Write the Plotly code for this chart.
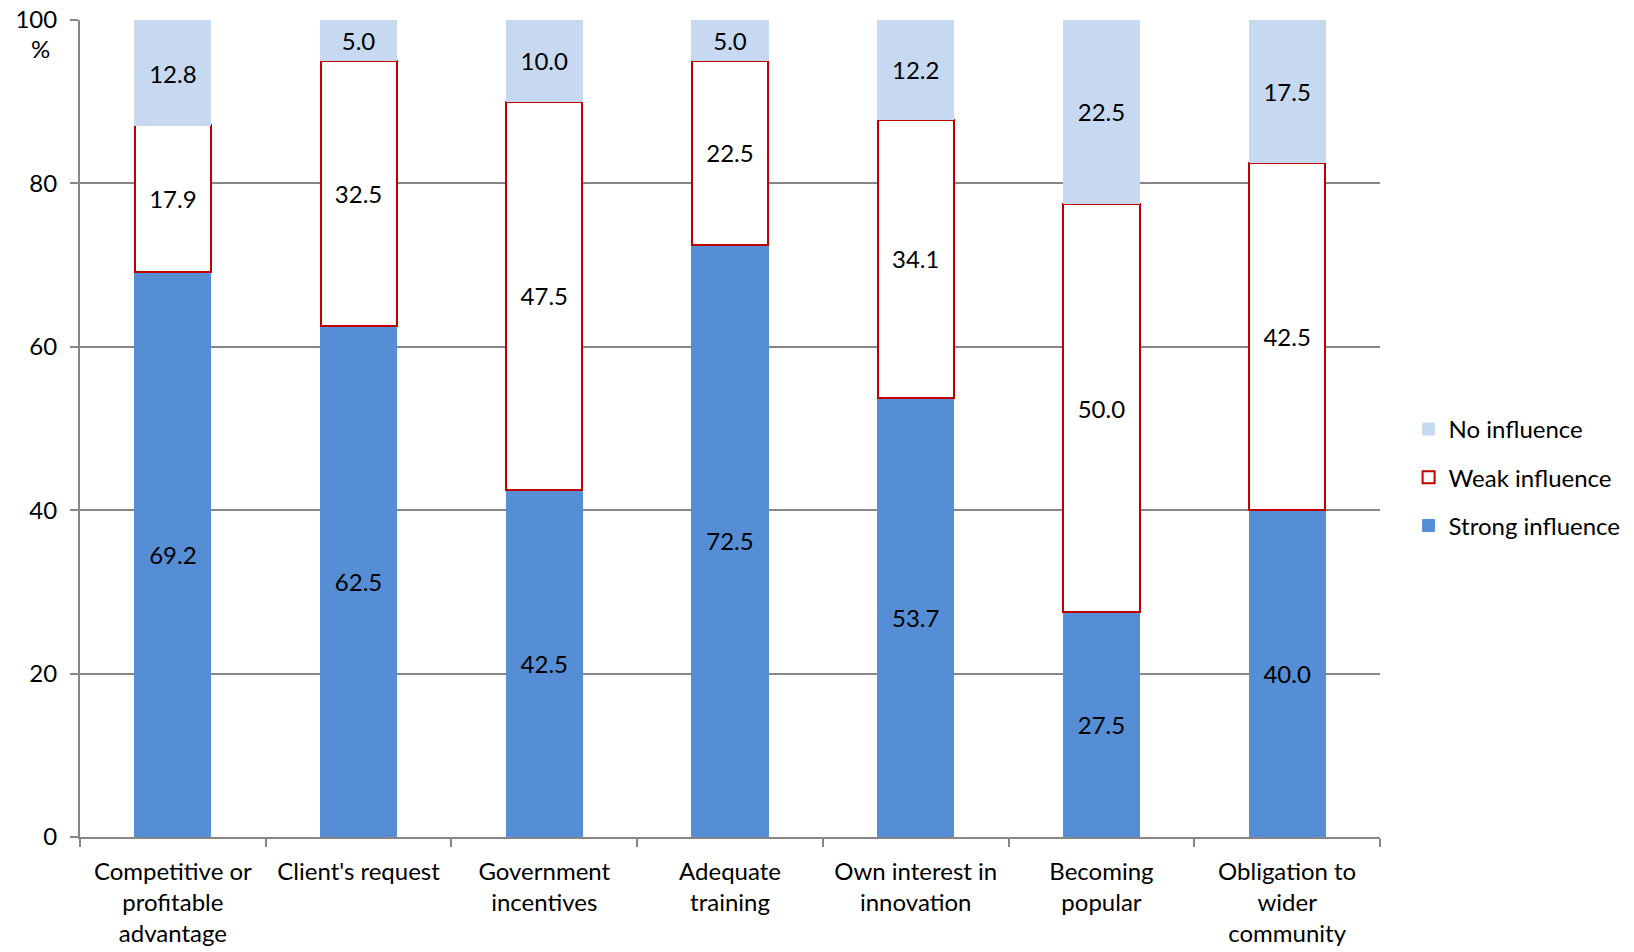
import plotly.graph_objects as go

categories = ["Competitive or<br>profitable<br>advantage", "Client's request", "Government<br>incentives",
              "Adequate<br>training", "Own interest in<br>innovation", "Becoming<br>popular",
              "Obligation to<br>wider<br>community"]
strong = [69.2, 62.5, 42.5, 72.5, 53.7, 27.5, 40.0]
weak = [17.9, 32.5, 47.5, 22.5, 34.1, 50.0, 42.5]
no_inf = [12.8, 5.0, 10.0, 5.0, 12.2, 22.5, 17.5]
y_ticks = [0, 20, 40, 60, 80, 100]

FONT = "Lato"
fs = 24

fig = go.Figure()
common = dict(texttemplate="%{y:.1f}", textposition="inside", insidetextanchor="middle",
              textangle=0, constraintext="none", textfont=dict(color="black", size=fs, family=FONT))
fig.add_trace(go.Bar(x=categories, y=strong, name="Strong influence", legendgroup="s", legendrank=3,
                     marker=dict(color="#558ED5", line=dict(color="#558ED5", width=1)), **common))
fig.add_trace(go.Bar(x=categories, y=weak, name="Weak influence", legendgroup="w", legendrank=2,
                     marker=dict(color="white", line=dict(color="#C00000", width=2)), **common))
fig.add_trace(go.Bar(x=categories, y=no_inf, name="No influence", legendgroup="n", legendrank=1,
                     marker=dict(color="#C6D9F1", line=dict(color="#C6D9F1", width=1)), **common))

fig.update_layout(
    barmode="stack", bargap=0.59,
    width=1634, height=952,
    margin=dict(l=80, r=254, t=20, b=115, autoexpand=False),
    plot_bgcolor="white", paper_bgcolor="white",
    font=dict(family=FONT, size=fs, color="black"),
    showlegend=True,
    legend=dict(x=1.022, y=0.44, xanchor="left", yanchor="middle", traceorder="grouped",
                font=dict(size=fs, family=FONT), itemwidth=30, tracegroupgap=14),
    xaxis=dict(showline=True, linecolor="#868686", linewidth=2, ticks="outside", tickson="boundaries",
               ticklen=8, tickcolor="#868686", tickwidth=2, tickfont=dict(size=fs),
               ticklabelstandoff=12, automargin=False),
    yaxis=dict(range=[0, 100], tickvals=y_ticks, showgrid=True, gridcolor="#868686", gridwidth=1.5,
               showline=True, linecolor="#868686", linewidth=2, ticks="outside", ticklen=8,
               tickcolor="#868686", tickwidth=2, tickfont=dict(size=fs), zeroline=False,
               ticklabelstandoff=8, automargin=False),
)
fig.add_annotation(text="%", xref="paper", yref="y", x=0, y=100, xanchor="center", yanchor="top",
                   xshift=-40, yshift=-12, showarrow=False, font=dict(size=fs, family=FONT))
fig.write_html("out.html")
